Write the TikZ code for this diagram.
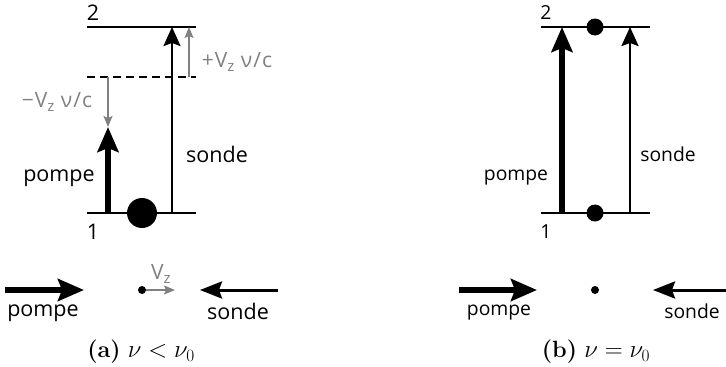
\documentclass[tikz,border=0pt]{standalone}
\usepackage{fontspec}
\newfontfamily\lab{Open Sans}
\newfontfamily\glab[LetterSpace=5]{Open Sans}
\usetikzlibrary{arrows.meta}
\definecolor{grayc}{RGB}{128,128,128}
\newcommand{\zsub}{{\fontsize{15}{15}\selectfont\raisebox{-3.5pt}{z}}}
\begin{document}
\begin{tikzpicture}[x=1pt,y=-1pt,
  level/.style={line width=2pt},
  thickarr/.style={line width=6pt,-{Stealth[length=25pt,width=21pt,inset=4pt]}},
  thinarr/.style={line width=2.5pt,-{Stealth[length=19pt,width=17pt,inset=3pt]}},
  grayarr/.style={grayc,line width=1.4pt,-{Stealth[length=11pt,width=9pt,inset=2pt]}},
  lbl/.style={inner sep=0pt,font=\lab\fontsize{21.5}{24}\selectfont},
  lblb/.style={inner sep=0pt,font=\lab\fontsize{19.3}{22}\selectfont},
  glbl/.style={inner sep=0pt,text=grayc,font=\glab\fontsize{21}{24}\selectfont},
  capt/.style={inner sep=0pt,font=\fontsize{23.5}{28}\selectfont}]
\useasboundingbox (0,0) rectangle (726,367);

% ---------- panel (a) ----------
\coordinate (a2L) at (87,27);  \coordinate (a2R) at (196,27);
\coordinate (a1L) at (87,213); \coordinate (a1R) at (196,213);
\coordinate (adL) at (87,77);  \coordinate (adR) at (196,77);
\draw[level] (a2L) -- (a2R);
\draw[level] (a1L) -- (a1R);
\draw[line width=1.6pt,dash pattern=on 8pt off 5pt] (adL) -- (adR);
\node[lbl] (a2) at (93,13) {2};
\node[lbl] (a1) at (93,232) {1};

\coordinate (apB) at (108,213); \coordinate (apT) at (108,127);
\draw[thickarr] (apB) -- (apT);
\coordinate (agT) at (108,77);
\draw[grayarr] (agT) -- (apT);
\node[lbl] (apl) at (59,178) {pompe};
\node[glbl] (agl) at (57,102) {−V\zsub\ ν/c};

\coordinate (asB) at (172,213); \coordinate (asT) at (172,27);
\draw[thinarr] (asB) -- (asT);
\coordinate (ag2B) at (189,77); \coordinate (ag2T) at (189,27);
\draw[grayarr] (ag2B) -- (ag2T);
\node[glbl] (ag2l) at (237,62) {+V\zsub\ ν/c};
\node[lbl] (asl) at (217,154) {sonde};

\fill (142,213) circle (15);

% bottom (a)
\coordinate (abp1) at (5,290); \coordinate (abp2) at (84,290);
\draw[line width=6pt,-{Stealth[length=26pt,width=22pt,inset=4pt]}] (abp1) -- (abp2);
\node[lbl] (abpl) at (43,313) {pompe};
\coordinate (abd) at (142,290); \coordinate (abv) at (175,290);
\draw[grayarr] (abd) -- (abv);
\fill (abd) circle (4);
\node[glbl] (abvl) at (161,274) {V\zsub};
\coordinate (abs1) at (278,290); \coordinate (abs2) at (200,290);
\draw[line width=3pt,-{Stealth[length=22pt,width=17pt,inset=3pt]}] (abs1) -- (abs2);
\node[lbl] (absl) at (238,311) {sonde};
\node[capt] (capa) at (141,352) {\textbf{(a)}~$\nu<\nu_0$};

% ---------- panel (b) ----------
\coordinate (b2L) at (541,27);  \coordinate (b2R) at (650,27);
\coordinate (b1L) at (541,213); \coordinate (b1R) at (650,213);
\draw[level] (b2L) -- (b2R);
\draw[level] (b1L) -- (b1R);
\node[lblb] (b2) at (546,13) {2};
\node[lblb] (b1) at (546,232) {1};
\coordinate (bpB) at (562,213); \coordinate (bpT) at (562,27);
\draw[thickarr] (bpB) -- (bpT);
\coordinate (bsB) at (630,213); \coordinate (bsT) at (630,27);
\draw[thinarr] (bsB) -- (bsT);
\fill (595,27) circle (8.5);
\fill (595,213) circle (8.5);
\node[lblb] (bpl) at (516,178) {pompe};
\node[lblb] (bsl) at (668,154) {sonde};

% bottom (b)
\coordinate (bbp1) at (459,290); \coordinate (bbp2) at (537,290);
\draw[line width=6pt,-{Stealth[length=26pt,width=22pt,inset=4pt]}] (bbp1) -- (bbp2);
\node[lblb] (bbpl) at (499,313) {pompe};
\coordinate (bbd) at (595,290);
\fill (bbd) circle (4);
\coordinate (bbs1) at (726,290); \coordinate (bbs2) at (653,290);
\draw[line width=3pt,-{Stealth[length=22pt,width=17pt,inset=3pt]}] (bbs1) -- (bbs2);
\node[lblb] (bbsl) at (692,311) {sonde};
\node[capt] (capb) at (596,352) {\textbf{(b)}~$\nu=\nu_0$};
\end{tikzpicture}
\end{document}
